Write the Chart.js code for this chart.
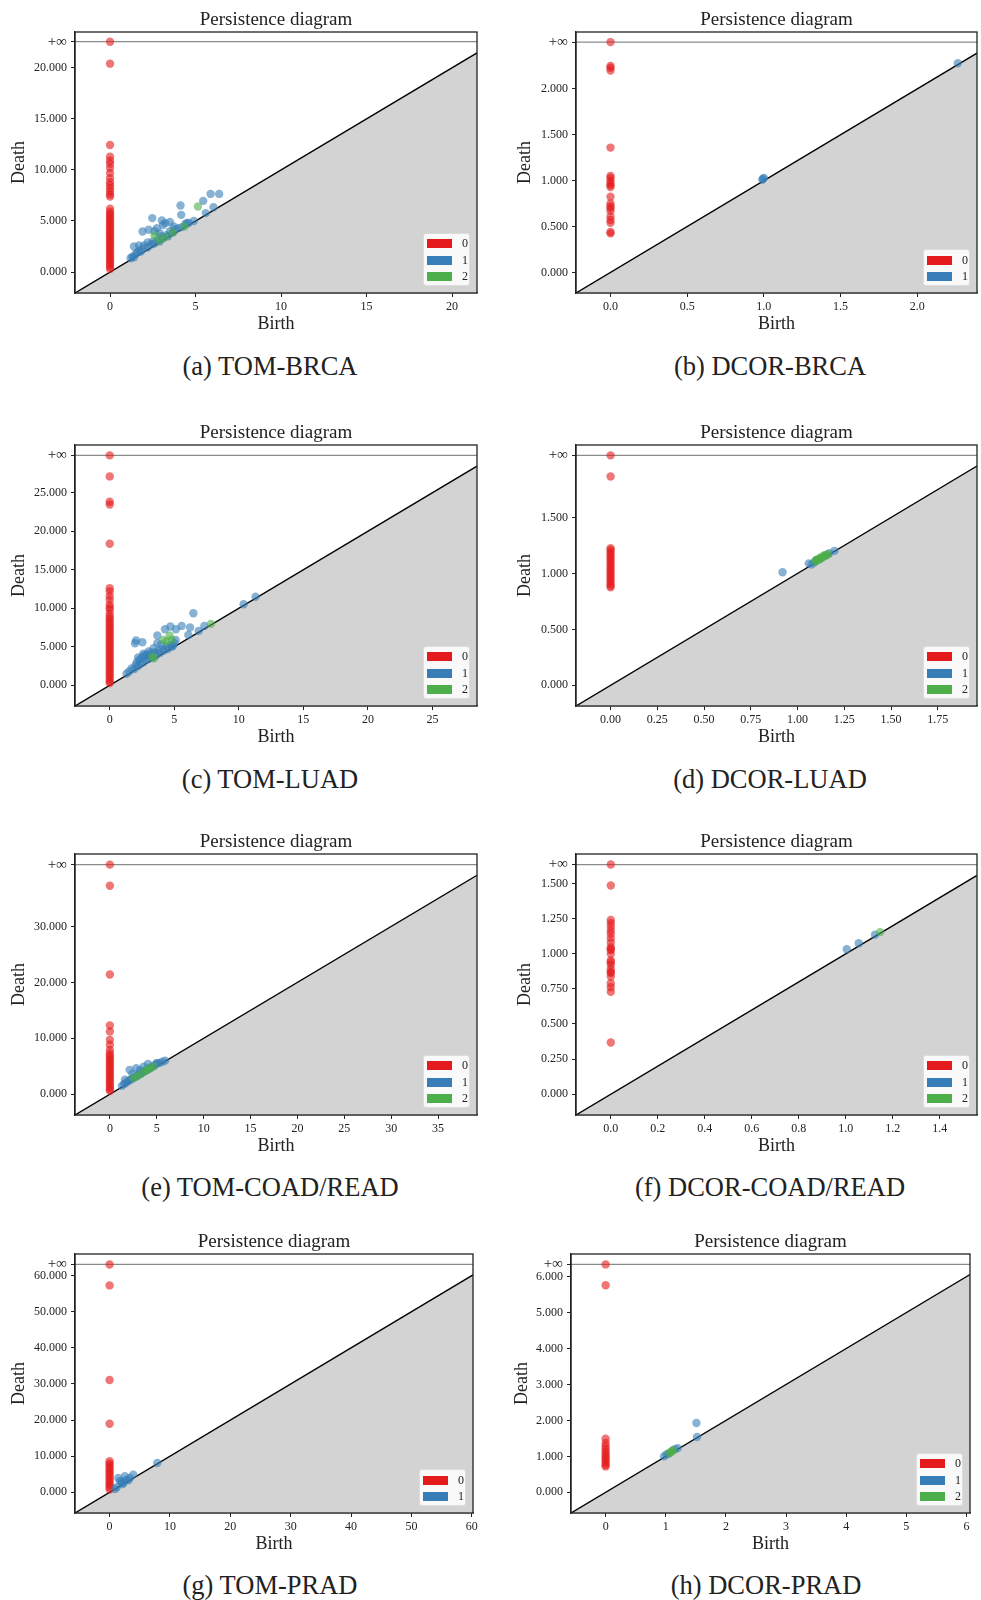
<!DOCTYPE html>
<html>
<head>
<meta charset="utf-8">
<script src="https://cdn.jsdelivr.net/npm/chart.js@4.4.1/dist/chart.umd.min.js"></script>
<style>
  body { margin: 0; background: #fff; }
  #page { position: relative; width: 981px; height: 1600px; overflow: hidden; background: #fff; }
  canvas { position: absolute; }
  .caption { position: absolute; transform: translate(-50%, -50%); white-space: nowrap;
    font-family: 'Liberation Serif', serif; font-size: 26.5px; color: #222; }
  .legend { position: absolute; box-sizing: border-box; width: 47px; padding: 2px 0 0 3px;
    background: rgba(255,255,255,0.85); border: 1px solid #ddd; border-radius: 3px;
    font-family: 'Liberation Serif', serif; font-size: 12px; color: #222; }
  .legend div { height: 16.5px; display: flex; align-items: center; }
  .legend .patch { display: inline-block; width: 25px; height: 9px; margin-right: 10px; }
</style>
</head>
<body>
<div id="page"></div>
<script>
// colours per homology dimension
const dimColors = ['#e41a1c', '#377eb8', '#4daf4a'];
const dimFill = ['rgba(228,26,28,0.6)', 'rgba(55,126,184,0.6)', 'rgba(77,175,74,0.6)'];

// (a) TOM-BRCA  -- dim 0 deaths (birth 0), dim 1 / dim 2 [birth, death]
const tomBrcaH0 = [Infinity, 20.4, 12.44, 11.3, 10.9, 10.6, 10.2, 9.7, 9.2, 8.8, 8.5, 8.2, 7.9, 7.6, 7.4,
  6.2, 5.9, 5.7, 5.5, 5.3, 5.1, 4.9, 4.7, 4.5, 4.3, 4.1, 3.9, 3.7, 3.5, 3.3, 3.1, 2.9, 2.7, 2.5, 2.3,
  2.1, 1.9, 1.7, 1.5, 1.3, 1.1, 0.9, 0.7, 0.5, 0.3];
const tomBrcaH1 = [[1.2, 1.35], [1.3, 1.5], [1.4, 1.45], [1.5, 1.8], [1.6, 1.9], [1.7, 2.1], [1.8, 2.0],
  [1.4, 2.5], [1.7, 2.6], [1.9, 2.3], [2.0, 2.6], [2.2, 2.4], [2.2, 2.9], [2.4, 2.7], [2.5, 3.0],
  [2.6, 2.8], [2.8, 3.2], [2.9, 3.0], [3.0, 3.5], [3.1, 3.3], [3.3, 3.6], [3.4, 3.5], [3.5, 4.0],
  [3.7, 3.9], [3.8, 4.2], [4.0, 4.3], [4.2, 4.4], [4.4, 4.7], [4.6, 4.8], [4.9, 5.0], [1.9, 3.97],
  [2.26, 4.14], [2.74, 4.3], [3.23, 4.79], [3.72, 4.46], [3.03, 5.05], [2.47, 5.28], [4.12, 6.51],
  [4.16, 5.6], [5.45, 6.97], [5.88, 7.65], [6.38, 7.65], [6.05, 6.35], [5.6, 5.77], [4.5, 4.8],
  [3.1, 4.6], [2.9, 3.8], [2.6, 4.0], [3.5, 4.9]];
const tomBrcaH2 = [[2.6, 3.6], [3.66, 3.9], [4.36, 4.46], [5.14, 6.42], [3.2, 3.4], [2.9, 3.1]];

// (b) DCOR-BRCA
const dcorBrcaH0 = [Infinity, 2.25, 2.23, 2.2, 1.36, 1.05, 1.03, 1.0, 0.97, 0.95, 0.93, 0.825, 0.75,
  0.72, 0.7, 0.67, 0.61, 0.57, 0.54, 0.44, 0.425];
const dcorBrcaH1 = [[0.99, 1.01], [1.0, 1.03], [0.995, 1.02], [2.265, 2.28]];
const dcorBrcaH2 = [];

// (c) TOM-LUAD
const tomLuadH0 = [Infinity, 27.12, 23.83, 23.48, 18.37, 12.6, 12.2, 11.6, 11.1, 10.5, 10.1, 9.8, 9.3,
  8.9, 8.6, 8.3, 8.0, 7.7, 7.4, 7.1, 6.8, 6.5, 6.2, 5.9, 5.6, 5.3, 5.0, 4.7, 4.4, 4.1, 3.8, 3.5, 3.2,
  2.9, 2.6, 2.3, 2.0, 1.7, 1.4, 1.1, 0.8, 0.5, 0.3];
const tomLuadH1 = [[11.3, 11.5], [10.37, 10.53], [6.48, 9.36], [5.57, 7.71], [6.22, 7.5], [6.89, 7.06],
  [7.33, 7.71], [4.7, 7.63], [4.28, 7.28], [5.13, 7.28], [3.69, 6.46], [2.04, 5.81], [1.96, 5.46],
  [2.53, 5.59], [3.69, 5.46], [6.09, 6.54], [5.11, 5.89], [4.8, 5.03], [1.3, 1.5], [1.5, 1.8],
  [1.7, 2.2], [1.9, 2.1], [2.0, 2.6], [2.1, 3.0], [2.2, 2.5], [2.3, 3.3], [2.4, 2.8], [2.5, 3.6],
  [2.6, 3.0], [2.7, 3.9], [2.8, 3.3], [2.9, 4.0], [3.0, 3.4], [3.1, 3.8], [3.2, 4.2], [3.3, 3.6],
  [3.5, 4.3], [3.6, 3.9], [3.8, 4.5], [3.9, 4.2], [4.1, 4.7], [4.2, 4.5], [4.4, 5.0], [4.5, 4.7],
  [4.7, 5.2], [4.9, 5.1], [5.0, 5.5], [2.2, 3.6], [2.6, 4.1], [3.0, 4.4], [3.4, 4.8], [4.0, 5.3]];
const tomLuadH2 = [[7.84, 7.97], [4.64, 6.46], [4.15, 5.89], [4.4, 5.68], [3.43, 3.51], [3.3, 3.7], [4.8, 5.9]];

// (d) DCOR-LUAD
const dcorLuadH0 = [Infinity, 1.867, 1.226, 1.21, 1.19, 1.17, 1.15, 1.13, 1.11, 1.09, 1.07, 1.05, 1.03,
  1.01, 0.99, 0.97, 0.95, 0.93, 0.91, 0.89, 0.877];
const dcorLuadH1 = [[0.92, 1.011], [1.06, 1.09], [1.075, 1.08], [1.198, 1.202], [1.10, 1.12], [1.09, 1.10],
  [1.12, 1.13], [1.15, 1.16], [1.17, 1.18]];
const dcorLuadH2 = [[1.095, 1.106], [1.105, 1.115], [1.115, 1.125], [1.125, 1.135], [1.135, 1.145],
  [1.145, 1.155], [1.155, 1.165], [1.163, 1.172], [1.10, 1.12], [1.12, 1.14], [1.14, 1.16]];

// (e) TOM-COAD/READ
const tomCoadH0 = [Infinity, 37.27, 21.4, 12.28, 11.2, 9.72, 8.83, 7.9, 7.3, 6.9, 6.5, 6.1, 5.7, 5.3,
  4.9, 4.5, 4.1, 3.7, 3.3, 2.9, 2.5, 2.1, 1.7, 1.3, 0.9, 0.6];
const tomCoadH1 = [[1.28, 1.49], [1.5, 1.8], [1.7, 2.0], [1.9, 2.3], [2.1, 2.5], [2.3, 2.7], [2.5, 2.9],
  [2.7, 3.1], [2.9, 3.3], [3.1, 3.5], [3.3, 3.7], [3.5, 3.9], [3.7, 4.1], [3.9, 4.3], [4.1, 4.5],
  [4.3, 4.7], [4.5, 4.9], [4.8, 5.2], [5.0, 5.5], [5.3, 5.6], [5.6, 5.8], [5.9, 6.0], [2.1, 4.35],
  [2.81, 4.65], [4.06, 5.43], [5.0, 5.55], [1.6, 2.6], [2.4, 3.6], [3.2, 4.3], [3.6, 4.9]];
const tomCoadH2 = [[2.88, 3.16], [4.3, 4.65], [4.66, 4.95], [2.5, 2.9], [3.3, 3.6], [3.8, 4.2], [4.0, 4.3]];

// (f) DCOR-COAD/READ
const dcorCoadH0 = [Infinity, 1.486, 1.241, 1.218, 1.194, 1.165, 1.142, 1.111, 1.08, 1.047, 1.03, 1.028,
  0.999, 0.952, 0.94, 0.921, 0.89, 0.87, 0.862, 0.838, 0.79, 0.762, 0.729, 0.368];
const dcorCoadH1 = [[1.004, 1.032], [1.055, 1.075], [1.124, 1.135]];
const dcorCoadH2 = [[1.146, 1.154]];

// (g) TOM-PRAD
const tomPradH0 = [Infinity, 57.3, 31.1, 19.0, 8.6, 8.0, 7.4, 6.8, 6.2, 5.6, 5.0, 4.4, 3.8, 3.2, 2.6,
  2.0, 1.4, 0.8];
const tomPradH1 = [[7.9, 8.1], [3.92, 4.89], [1.44, 3.97], [2.54, 4.43], [3.1, 3.3], [2.15, 2.3],
  [0.88, 0.92], [3.37, 3.97], [1.71, 3.05], [2.0, 3.0], [2.3, 2.6], [2.8, 3.5], [1.2, 1.4]];
const tomPradH2 = [];

// (h) DCOR-PRAD
const dcorPradH0 = [Infinity, 5.76, 1.49, 1.37, 1.28, 1.2, 1.13, 1.06, 1.0, 0.94, 0.88, 0.82, 0.76, 0.72];
const dcorPradH1 = [[1.51, 1.93], [1.52, 1.54], [1.2, 1.23], [0.97, 1.0], [1.01, 1.05], [1.05, 1.08], [1.15, 1.2]];
const dcorPradH2 = [[1.06, 1.09], [1.1, 1.14], [1.12, 1.17], [1.08, 1.11]];

// axis limits: [start, end of diagonal, top of y axis, +inf level]
const limA = [-2.05, 21.46, 23.5, 22.55];
const limB = [-0.225, 2.39, 2.62, 2.51];
const limC = [-2.69, 28.45, 31.2, 29.85];
const limD = [-0.185, 1.96, 2.148, 2.055];
const limE = [-3.72, 39.15, 42.95, 41.05];
const limF = [-0.148, 1.558, 1.71, 1.635];
const limG = [-5.73, 60.2, 66.0, 63.1];
const limH = [-0.576, 6.06, 6.63, 6.34];

// tick values
const xTicksA = [0, 5, 10, 15, 20], yTicksA = [0, 5, 10, 15, 20];
const xTicksB = [0, 0.5, 1, 1.5, 2], yTicksB = [0, 0.5, 1, 1.5, 2];
const xTicksC = [0, 5, 10, 15, 20, 25], yTicksC = [0, 5, 10, 15, 20, 25];
const xTicksD = [0, 0.25, 0.5, 0.75, 1, 1.25, 1.5, 1.75], yTicksD = [0, 0.5, 1, 1.5];
const xTicksE = [0, 5, 10, 15, 20, 25, 30, 35], yTicksE = [0, 10, 20, 30];
const xTicksF = [0, 0.2, 0.4, 0.6, 0.8, 1, 1.2, 1.4], yTicksF = [0, 0.25, 0.5, 0.75, 1, 1.25, 1.5];
const xTicksG = [0, 10, 20, 30, 40, 50, 60], yTicksG = [0, 10, 20, 30, 40, 50, 60];
const xTicksH = [0, 1, 2, 3, 4, 5, 6], yTicksH = [0, 1, 2, 3, 4, 5, 6];

const captions = ['(a) TOM-BRCA', '(b) DCOR-BRCA', '(c) TOM-LUAD', '(d) DCOR-LUAD',
  '(e) TOM-COAD/READ', '(f) DCOR-COAD/READ', '(g) TOM-PRAD', '(h) DCOR-PRAD'];

Chart.defaults.font.family = "'Liberation Serif', serif";
Chart.defaults.color = '#222';

const page = document.getElementById('page');

// panel layout: plot box [left, top, right, bottom], caption centre, Death label offset
const panels = [
  { h0: tomBrcaH0, h1: tomBrcaH1, h2: tomBrcaH2, lim: limA, xt: xTicksA, yt: yTicksA, xDec: 0, box: [75, 32, 477, 293], cap: [270, 366], dPad: 8.2 },
  { h0: dcorBrcaH0, h1: dcorBrcaH1, h2: dcorBrcaH2, lim: limB, xt: xTicksB, yt: yTicksB, xDec: 1, box: [576, 32, 977, 293], cap: [770, 366], dPad: 13.5 },
  { h0: tomLuadH0, h1: tomLuadH1, h2: tomLuadH2, lim: limC, xt: xTicksC, yt: yTicksC, xDec: 0, box: [75, 445, 477, 706], cap: [270, 779], dPad: 8.2 },
  { h0: dcorLuadH0, h1: dcorLuadH1, h2: dcorLuadH2, lim: limD, xt: xTicksD, yt: yTicksD, xDec: 2, box: [576, 445, 977, 706], cap: [770, 779], dPad: 13.5 },
  { h0: tomCoadH0, h1: tomCoadH1, h2: tomCoadH2, lim: limE, xt: xTicksE, yt: yTicksE, xDec: 0, box: [75, 854, 477, 1115], cap: [270, 1187], dPad: 8.2 },
  { h0: dcorCoadH0, h1: dcorCoadH1, h2: dcorCoadH2, lim: limF, xt: xTicksF, yt: yTicksF, xDec: 1, box: [576, 854, 977, 1115], cap: [770, 1187], dPad: 13.5 },
  { h0: tomPradH0, h1: tomPradH1, h2: tomPradH2, lim: limG, xt: xTicksG, yt: yTicksG, xDec: 0, box: [75, 1254, 473, 1513], cap: [270, 1585], dPad: 8.2 },
  { h0: dcorPradH0, h1: dcorPradH1, h2: dcorPradH2, lim: limH, xt: xTicksH, yt: yTicksH, xDec: 0, box: [571, 1254, 970, 1513], cap: [766, 1585], dPad: 15.2 }
];

// draws the top and right spines too
const framePlugin = {
  id: 'frame',
  afterDraw(chart) {
    const { ctx, chartArea: a } = chart;
    ctx.save();
    ctx.strokeStyle = '#222';
    ctx.lineWidth = 1.3;
    ctx.strokeRect(a.left, a.top, a.right - a.left, a.bottom - a.top);
    ctx.restore();
  }
};

function makePanel(p, i) {
  const [cl, ct, cr, cb] = p.box;
  const padR = cl < 300 ? 15 : 8;
  const canvas = document.createElement('canvas');
  canvas.width = cr - cl + 75 + padR;
  canvas.height = cb - ct + 32 + 42;
  canvas.style.left = (cl - 75) + 'px';
  canvas.style.top = (ct - 32) + 'px';
  page.appendChild(canvas);

  const [lo, hi, top, inf] = p.lim;
  const toPts = pairs => pairs.map(([b, d]) => ({ x: b, y: d === Infinity ? inf : d }));
  const dims = [p.h0.map(d => [0, d]), p.h1, p.h2];

  const datasets = [
    // diagonal with the grey region under it
    { type: 'line', data: [{ x: lo, y: lo }, { x: hi, y: hi }], borderColor: '#000', borderWidth: 1.4,
      backgroundColor: '#d3d3d3', fill: 'start', pointRadius: 0, order: 10 },
    // +inf level
    { type: 'line', data: [{ x: lo, y: inf }, { x: hi, y: inf }], borderColor: 'rgba(0,0,0,0.45)',
      borderWidth: 1.2, fill: false, pointRadius: 0, order: 9 }
  ];
  dims.forEach((pairs, k) => {
    if (!pairs.length) return;
    datasets.push({ type: 'scatter', label: String(k), data: toPts(pairs), backgroundColor: dimFill[k],
      borderWidth: 0, pointRadius: 4.2, order: 3 - k });
  });

  new Chart(canvas, {
    type: 'scatter',
    data: { datasets },
    options: {
      responsive: false,
      animation: false,
      devicePixelRatio: 1,
      layout: { padding: { right: padR } },
      plugins: {
        legend: { display: false },
        tooltip: { enabled: false },
        title: { display: true, text: 'Persistence diagram', fullSize: false, color: '#222',
          font: { size: 19, weight: 'normal' }, padding: { top: 8.6, bottom: 0.6 } }
      },
      scales: {
        x: {
          type: 'linear', min: lo, max: hi,
          afterBuildTicks: s => { s.ticks = p.xt.map(v => ({ value: v })); },
          afterFit: s => { s.height = 42; },
          ticks: { callback: v => Number(v).toFixed(p.xDec), font: { size: 12 }, color: '#222',
            padding: 3, maxRotation: 0, autoSkip: false },
          grid: { drawOnChartArea: false, tickLength: 4, color: '#222' },
          border: { color: '#222', width: 1.3 },
          title: { display: true, text: 'Birth', font: { size: 18 }, color: '#222', padding: 0 }
        },
        y: {
          type: 'linear', min: lo, max: top,
          afterBuildTicks: s => { s.ticks = p.yt.concat([inf]).map(v => ({ value: v })); },
          afterFit: s => { s.width = 75; },
          ticks: {
            callback: v => (v === inf ? '+\u221e' : Number(v).toFixed(3)),
            font: c => ({ size: c.tick && c.tick.value === inf ? 15 : 12 }),
            color: '#222', padding: 4, autoSkip: false
          },
          grid: { drawOnChartArea: false, tickLength: 4, color: '#222' },
          border: { color: '#222', width: 1.3 },
          title: { display: true, text: 'Death', font: { size: 18 }, color: '#222',
            padding: { top: p.dPad, bottom: 0 } }
        }
      }
    },
    plugins: [framePlugin]
  });

  // legend box in the lower right corner of the plot
  const shown = dims.map((d, k) => k).filter(k => dims[k].length);
  const leg = document.createElement('div');
  leg.className = 'legend';
  leg.innerHTML = shown.map(k =>
    `<div><span class="patch" style="background:${dimColors[k]}"></span>${k}</div>`).join('');
  leg.style.left = (cr - 7 - 47) + 'px';
  leg.style.bottom = (1600 - (cb - 7)) + 'px';
  page.appendChild(leg);

  const cap = document.createElement('div');
  cap.className = 'caption';
  cap.textContent = captions[i];
  cap.style.left = p.cap[0] + 'px';
  cap.style.top = p.cap[1] + 'px';
  page.appendChild(cap);
}

panels.forEach(makePanel);
</script>
</body>
</html>
